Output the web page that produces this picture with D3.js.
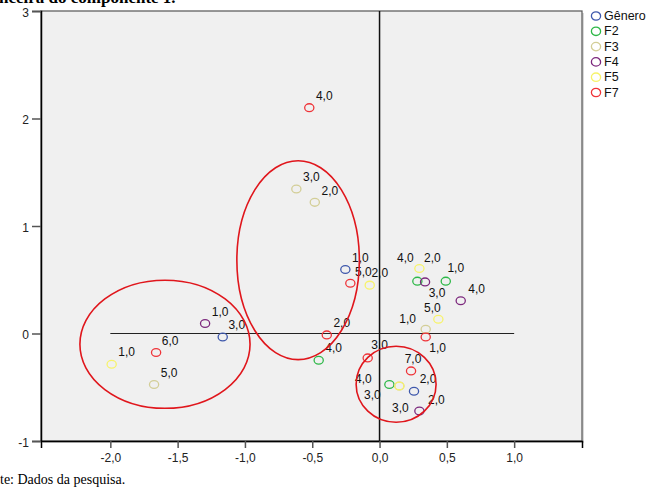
<!DOCTYPE html>
<html><head><meta charset="utf-8">
<script src="https://cdn.jsdelivr.net/npm/d3@7"></script>
<style>
html,body{margin:0;padding:0;background:#fff;}
svg{display:block;}
</style></head>
<body>
<svg id="chart" width="655" height="489"></svg>
<script>
// ---- data ----
const seriesNames = ["Gênero","F2","F3","F4","F5","F7"];
const generoX = [-0.254, -1.165, 0.256];
const generoY = [0.596, -0.032, -0.537];
const generoLabels = ["1,0","3,0","2,0"];
const f2X = [-0.452, 0.281, 0.492, 0.073];
const f2Y = [-0.249, 0.487, 0.487, -0.475];
const f2Labels = ["4,0","4,0","1,0","4,0"];
const f3X = [-1.675, -0.618, -0.481, 0.343, 0.147];
const f3Y = [-0.475, 1.344, 1.220, 0.040, -0.488];
const f3Labels = ["5,0","3,0","2,0","1,0","3,0"];
const f4X = [-1.296, 0.338, 0.603, 0.296];
const f4Y = [0.093, 0.480, 0.304, -0.721];
const f4Labels = ["1,0","3,0","4,0","2,0"];
const f5X = [-1.990, -0.073, 0.296, 0.437, 0.147];
const f5Y = [-0.286, 0.450, 0.605, 0.133, -0.488];
const f5Labels = ["1,0","2,0","2,0","5,0","3,0"];
const f7X = [-1.660, -0.522, -0.217, -0.392, 0.343, -0.088, 0.234];
const f7Y = [-0.177, 2.101, 0.468, -0.013, -0.032, -0.227, -0.348];
const f7Labels = ["6,0","4,0","5,0","2,0","1,0","3,0","7,0"];
const xTicks = [-2.0, -1.5, -1.0, -0.5, 0.0, 0.5, 1.0];
const yTicks = [-1, 0, 1, 2, 3];
// highlighted groups (ellipses in data units)
const ellipseCX = [-1.594, -0.605, 0.123];
const ellipseCY = [-0.100, 0.682, -0.472];
const ellipseRX = [0.632, 0.455, 0.297];
const ellipseRY = [0.596, 0.925, 0.354];

// ---- layout / style ----
const colors = ["#3E58AC","#2EB848","#D3CE97","#7C287D","#F7F36B","#EF3338"];
const seriesX = [generoX,f2X,f3X,f4X,f5X,f7X];
const seriesY = [generoY,f2Y,f3Y,f4Y,f5Y,f7Y];
const seriesL = [generoLabels,f2Labels,f3Labels,f4Labels,f5Labels,f7Labels];
// label offsets (pixels, label centre relative to marker)
const labelOffsets = [
  [[15,-11],[14,-12],[14,-12]],
  [[15,-12],[-12,-23],[10,-13],[-26,-6]],
  [[15,-12],[15,-12],[15,-11],[-18,-10],[1,22]],
  [[15,-12],[12,11],[16,-12],[17,-11]],
  [[15,-12],[10,-12],[13,-10],[-6,-11],[-27,9]],
  [[14,-12],[15,-12],[13,-11],[15,-12],[12,11],[12,-13],[2,-12]]
];

const svg = d3.select("#chart");
const plot = {left:41, right:582, top:11, bottom:441};
const x = d3.scaleLinear().domain([-2.515, 1.504]).range([plot.left, plot.right]);
const y = d3.scaleLinear().domain([-1, 3]).range([plot.bottom, plot.top]);

// title (clipped at top)
svg.append("text").attr("x", -1).attr("y", 3)
  .attr("font-family","Liberation Serif, Times New Roman, serif")
  .attr("font-weight","bold").attr("font-size", 17).attr("fill","#000")
  .text("ncelra do componente 1.");

// shadow + plot background
svg.append("rect").attr("x", plot.left+2).attr("y", plot.top+2)
  .attr("width", plot.right-plot.left).attr("height", plot.bottom-plot.top)
  .attr("fill","#d8d8d8");
svg.append("rect").attr("x", plot.left).attr("y", plot.top)
  .attr("width", plot.right-plot.left).attr("height", plot.bottom-plot.top)
  .attr("fill","#f0f0f0").attr("stroke","#555").attr("stroke-width",1.2);

// axes
const xAxis = d3.axisBottom(x).tickValues(xTicks).tickSize(7).tickPadding(5)
  .tickFormat(d => d3.format(".1f")(d).replace(".",",").replace("−","-"));
const gx = svg.append("g").attr("transform",`translate(0,${plot.bottom})`).call(xAxis);
const yAxis = d3.axisLeft(y).tickValues(yTicks).tickSize(9).tickPadding(3)
  .tickFormat(d => d3.format("d")(d).replace("−","-"));
const gy = svg.append("g").attr("transform",`translate(${plot.left},0)`).call(yAxis);
[gx,gy].forEach(g=>{
  g.select(".domain").attr("stroke","#000").attr("stroke-width",1.5);
  g.selectAll(".tick line").attr("stroke","#555").attr("stroke-width",1.5);
  g.selectAll(".tick text").attr("font-family","Liberation Sans, Arial, sans-serif")
    .attr("font-size",12).attr("fill","#222");
});
gy.selectAll(".tick text").attr("dy","0.45em");

// reference lines
svg.append("line").attr("x1", x(-2.0)).attr("x2", x(1.0)).attr("y1", y(0)).attr("y2", y(0))
  .attr("stroke","#222").attr("stroke-width",1.2);
svg.append("line").attr("x1", x(0)).attr("x2", x(0)).attr("y1", y(3)).attr("y2", y(-1))
  .attr("stroke","#111").attr("stroke-width",1.5);

// points + labels
const pts = svg.append("g");
seriesNames.forEach((name,si)=>{
  const data = seriesX[si].map((vx,i)=>({x:vx,y:seriesY[si][i],lab:seriesL[si][i],off:labelOffsets[si][i]}));
  pts.selectAll(null).data(data).enter().append("ellipse")
    .attr("cx", d=>x(d.x)).attr("cy", d=>y(d.y)).attr("rx",4.6).attr("ry",3.9)
    .attr("fill","none").attr("stroke",colors[si]).attr("stroke-width",1.3);
  pts.selectAll(null).data(data).enter().append("text")
    .attr("x", d=>x(d.x)+d.off[0]).attr("y", d=>y(d.y)+d.off[1])
    .attr("text-anchor","middle").attr("dominant-baseline","central")
    .attr("font-family","Liberation Sans, Arial, sans-serif").attr("font-size",12)
    .attr("fill","#111").text(d=>d.lab);
});

// ellipses
svg.append("g").selectAll("ellipse").data(ellipseCX.map((c,i)=>i)).enter().append("ellipse")
  .attr("cx", i=>x(ellipseCX[i])).attr("cy", i=>y(ellipseCY[i]))
  .attr("rx", i=>x(ellipseRX[i])-x(0)).attr("ry", i=>y(0)-y(ellipseRY[i]))
  .attr("fill","none").attr("stroke","#E0161C").attr("stroke-width",1.6);

// legend
const leg = svg.append("g").attr("transform","translate(596,16)");
seriesNames.forEach((name,i)=>{
  const g = leg.append("g").attr("transform",`translate(0,${i*15.3})`);
  g.append("ellipse").attr("cx",0).attr("cy",0).attr("rx",4.6).attr("ry",4.2)
    .attr("fill","none").attr("stroke",colors[i]).attr("stroke-width",1.3);
  g.append("text").attr("x",8).attr("y",0).attr("dominant-baseline","central")
    .attr("font-family","Liberation Sans, Arial, sans-serif").attr("font-size",12.5)
    .attr("fill","#111").text(name);
});

// source note
svg.append("text").attr("x", 0).attr("y", 484)
  .attr("font-family","Liberation Serif, Times New Roman, serif")
  .attr("font-size", 14).attr("fill","#000")
  .text("te: Dados da pesquisa.");
</script>
</body></html>
